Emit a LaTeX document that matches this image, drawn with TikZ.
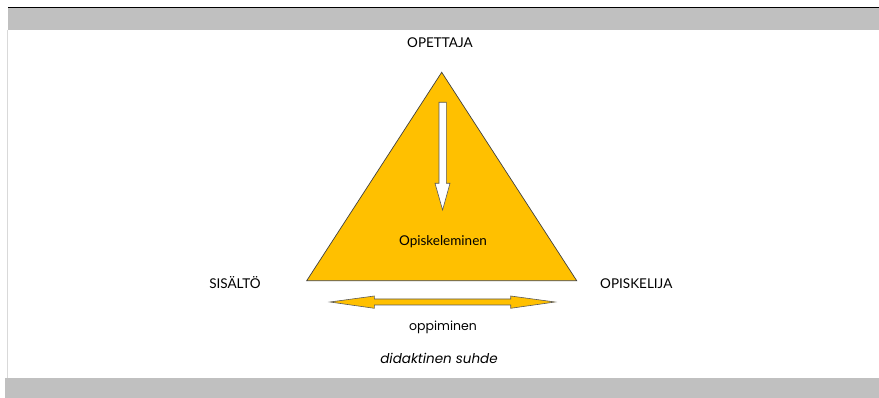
\documentclass[tikz,border=0pt]{standalone}
\usepackage{fontspec}
\setmainfont{Lato}
\newfontfamily\alafont{Poppins}
\definecolor{kulta}{HTML}{FFC000}
\definecolor{kaista}{HTML}{C0C0C0}
\begin{document}
\begin{tikzpicture}[x=1pt,y=-1pt,
    nimi/.style={font=\fontsize{13.5}{15}\selectfont},
    alateksti/.style={font=\alafont\fontsize{12.5}{14}\selectfont},
    nuoli/.style={draw=gray!70!black,line width=0.6pt,line join=miter}]
  \useasboundingbox (0,0) rectangle (879,398);
  % kehys
  \fill[kaista] (8,8) rectangle (879,30);
  \draw[line width=1.2pt] (8,7.4) -- (879,7.4);
  \draw[gray!30,line width=1pt] (7.5,30) -- (7.5,378);
  \fill[kaista] (5,378) rectangle (879,398);
  % kolmio
  \coordinate (huippu) at (441.7,72.3);
  \coordinate (vasen) at (306.7,280.7);
  \coordinate (oikea) at (576.7,280.7);
  \draw[fill=kulta,draw=gray!50!black,line width=0.7pt]
    (huippu) -- (vasen) -- (oikea) -- cycle;
  \draw[nuoli,fill=white] (439,102.3) -- (446.3,102.3) -- (446.3,183.3)
    -- (450,183.3) -- (442.6,210) -- (435,183.3) -- (439,183.3) -- cycle;
  \node[nimi] (opiskeleminen) at (443,241.7) {Opiskeleminen};
  % kulmat
  \node[nimi] (opettaja) at (440,43) {OPETTAJA};
  \node[nimi] (sisalto) at (235,282.5) {SISÄLTÖ};
  \node[nimi] (opiskelija) at (636.3,284) {OPISKELIJA};
  % alaosa
  \draw[nuoli,fill=kulta] (330,302) -- (374.3,296) -- (374.3,299)
    -- (510.7,299) -- (510.7,296) -- (555,302) -- (510.7,308.3)
    -- (510.7,305) -- (374.3,305) -- (374.3,308.3) -- cycle;
  \node[alateksti] (oppiminen) at (443,327.7) {oppiminen};
  \node[alateksti,font=\alafont\fontsize{13.5}{15}\selectfont]
    (suhde) at (439,358.3) {\itshape didaktinen suhde};
\end{tikzpicture}
\end{document}
